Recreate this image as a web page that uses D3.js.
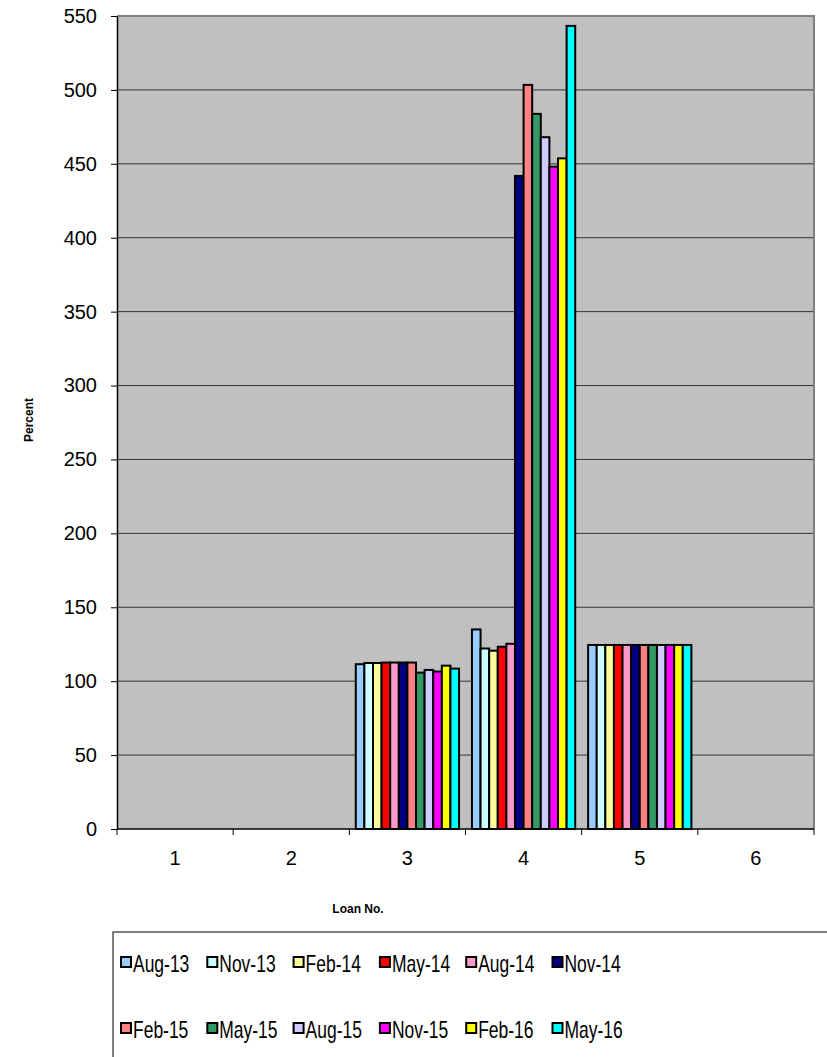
<html>
<head>
<title>Loan chart</title>
<script src="https://d3js.org/d3.v7.min.js"></script>
</head>
<style>
body { margin: 0; background: #fff; }
text { font-family: "Liberation Sans", Arial, sans-serif; }
</style>
<body>

<svg id="chart_svg" width="827" height="1057"></svg>

<script>
// loan numbers on the x axis
var loans = ["1", "2", "3", "4", "5", "6"];

// one array per quarter, values in percent
var aug13 = [0, 0, 111.5, 135.0, 124.5, 0];
var nov13 = [0, 0, 112.3, 122.1, 124.5, 0];
var feb14 = [0, 0, 112.3, 120.6, 124.5, 0];
var may14 = [0, 0, 112.6, 123.3, 124.5, 0];
var aug14 = [0, 0, 112.6, 125.3, 124.5, 0];
var nov14 = [0, 0, 112.6, 441.8, 124.5, 0];
var feb15 = [0, 0, 112.6, 503.4, 124.5, 0];
var may15 = [0, 0, 105.8, 483.8, 124.5, 0];
var aug15 = [0, 0, 107.6, 468.0, 124.5, 0];
var nov15 = [0, 0, 106.5, 448.1, 124.5, 0];
var feb16 = [0, 0, 110.5, 453.7, 124.5, 0];
var may16 = [0, 0, 108.5, 543.3, 124.5, 0];

var seriesNames = ["Aug-13", "Nov-13", "Feb-14", "May-14", "Aug-14", "Nov-14",
                   "Feb-15", "May-15", "Aug-15", "Nov-15", "Feb-16", "May-16"];
var seriesValues = [aug13, nov13, feb14, may14, aug14, nov14,
                    feb15, may15, aug15, nov15, feb16, may16];
var seriesColors = ["#99CCFF", "#CCFFFF", "#FFFF99", "#FF0000", "#FF99CC", "#000080",
                    "#FF8080", "#339966", "#CCCCFF", "#FF00FF", "#FFFF00", "#00FFFF"];

var yTicks = [0, 50, 100, 150, 200, 250, 300, 350, 400, 450, 500, 550];

var svg = d3.select("#chart_svg");

// plot area edges
var plotL = 117, plotR = 814, plotT = 16, plotB = 829;

var x = d3.scaleBand().domain(loans).range([plotL, plotR]).padding(0);
var xs = d3.scaleBand().domain(seriesNames).range([0, x.bandwidth()])
  .paddingInner(0).paddingOuter(0.75);
var y = d3.scaleLinear().domain([0, 550]).range([plotB, plotT]);

// plot background
svg.append("rect")
  .attr("x", plotL).attr("y", plotT)
  .attr("width", plotR - plotL).attr("height", plotB - plotT)
  .attr("fill", "#C0C0C0");

// gridlines
svg.selectAll("line.grid")
  .data(yTicks.filter(function (d) { return d > 0 && d < 550; }))
  .enter().append("line")
  .attr("class", "grid")
  .attr("x1", plotL).attr("x2", plotR)
  .attr("y1", function (d) { return y(d); })
  .attr("y2", function (d) { return y(d); })
  .attr("stroke", "#333").attr("stroke-width", 1);

// top and right border
svg.append("path")
  .attr("d", "M" + plotL + "," + plotT + "H" + plotR + "V" + plotB)
  .attr("fill", "none").attr("stroke", "#808080").attr("stroke-width", 2);

// bars
var groups = svg.selectAll("g.series")
  .data(seriesNames)
  .enter().append("g")
  .attr("class", "series");

groups.each(function (name, si) {
  var vals = seriesValues[si].map(function (v, i) { return { loan: loans[i], v: v }; })
    .filter(function (d) { return d.v > 0; });
  d3.select(this).selectAll("rect")
    .data(vals)
    .enter().append("rect")
    .attr("x", function (d) { return x(d.loan) + xs(name); })
    .attr("width", xs.bandwidth())
    .attr("y", function (d) { return y(d.v); })
    .attr("height", function (d) { return y(0) - y(d.v); })
    .attr("fill", seriesColors[si])
    .attr("stroke", "#000")
    .attr("stroke-width", 2);
});

// y axis
var yAxis = svg.append("g")
  .attr("transform", "translate(" + plotL + ",0)")
  .call(d3.axisLeft(y).tickValues(yTicks).tickSize(6).tickPadding(14).tickSizeOuter(0));
yAxis.select(".domain").attr("stroke", "#000").attr("stroke-width", 1.5);
yAxis.selectAll(".tick line").attr("stroke", "#000");
yAxis.selectAll(".tick text")
  .attr("font-size", 20).attr("fill", "#000")
  .attr("font-family", "Liberation Sans, Arial, sans-serif");

// x axis: ticks at category boundaries
svg.append("line")
  .attr("x1", plotL).attr("x2", plotR)
  .attr("y1", plotB).attr("y2", plotB)
  .attr("stroke", "#000").attr("stroke-width", 1.5);

var bounds = loans.map(function (d) { return x(d); }).concat([plotR]);
svg.selectAll("line.xtick")
  .data(bounds)
  .enter().append("line")
  .attr("class", "xtick")
  .attr("x1", function (d) { return d; }).attr("x2", function (d) { return d; })
  .attr("y1", plotB).attr("y2", plotB + 6)
  .attr("stroke", "#000");

svg.selectAll("text.xlab")
  .data(loans)
  .enter().append("text")
  .attr("class", "xlab")
  .attr("x", function (d) { return x(d) + x.bandwidth() / 2; })
  .attr("y", 865)
  .attr("text-anchor", "middle")
  .attr("font-size", 20)
  .text(function (d) { return d; });

// axis titles
svg.append("text")
  .attr("transform", "translate(33,420) rotate(-90)")
  .attr("text-anchor", "middle")
  .attr("font-size", 12).attr("font-weight", "bold")
  .text("Percent");

svg.append("text")
  .attr("x", 358).attr("y", 913)
  .attr("text-anchor", "middle")
  .attr("font-size", 12).attr("font-weight", "bold")
  .text("Loan No.");

// legend
svg.append("rect")
  .attr("x", 113).attr("y", 932)
  .attr("width", 760).attr("height", 200)
  .attr("fill", "#fff").attr("stroke", "#000").attr("stroke-width", 1);

var legend = svg.selectAll("g.legend")
  .data(seriesNames)
  .enter().append("g")
  .attr("class", "legend")
  .attr("transform", function (d, i) {
    return "translate(" + (121 + (i % 6) * 86.3) + "," + (957 + Math.floor(i / 6) * 66) + ")";
  });

legend.append("rect")
  .attr("width", 10).attr("height", 10)
  .attr("fill", function (d, i) { return seriesColors[i]; })
  .attr("stroke", "#000").attr("stroke-width", 2);

legend.append("text")
  .attr("transform", "translate(12,15) scale(0.76,1)")
  .attr("font-size", 23)
  .text(function (d) { return d; });

</script>

</body>
</html>
